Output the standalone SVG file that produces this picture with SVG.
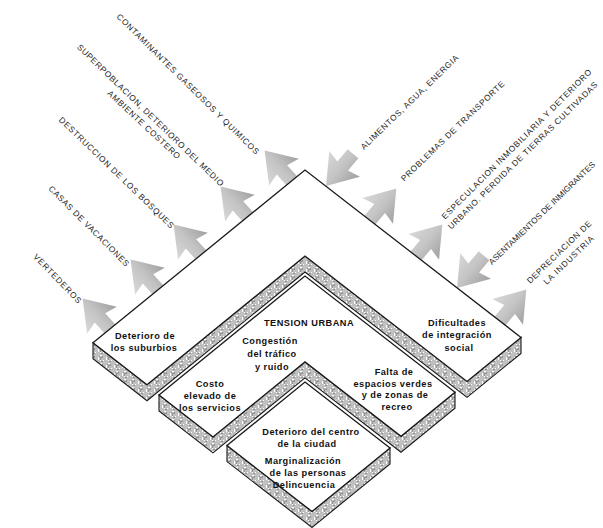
<svg xmlns="http://www.w3.org/2000/svg" xmlns:xlink="http://www.w3.org/1999/xlink" width="603" height="528" viewBox="0 0 603 528">
<defs>
<style>
.face{fill:#fff;stroke:#1a1a1a;stroke-width:1.3;stroke-linejoin:miter}
.wall{fill:url(#hatch);stroke:#1a1a1a;stroke-width:1.1;stroke-linejoin:miter}
.lbl{font-family:"Liberation Sans",Arial,sans-serif;font-size:8.3px;fill:#1e1e1e;text-anchor:middle}
.t{font-family:"Liberation Sans",Arial,sans-serif;font-size:9.2px;font-weight:bold;fill:#111;text-anchor:middle;letter-spacing:0.5px}
.arr{fill:url(#ag)}
</style>
<pattern id="hatch" width="8" height="8" patternUnits="userSpaceOnUse">
<rect width="8" height="8" fill="#fff"/>
<path d="M1,0V8M3,0V5H7V1H5V3M5,5V8M7,5V8M3,7H5" fill="none" stroke="#2a2a2a" stroke-width="0.6"/>
</pattern>
<linearGradient id="ag" x1="0" y1="0" x2="1" y2="0">
<stop offset="0" stop-color="#d8d8d8"/>
<stop offset="0.5" stop-color="#c4c4c4"/>
<stop offset="1" stop-color="#a0a0a0"/>
</linearGradient>
<path id="aout" d="M-7,1V-15L-20,-12L0,-41L20,-12L7,-15V1Z"/>
<path id="ain" d="M0,0L-20,-29L-7,-26V-42H7V-26L20,-29Z"/>
</defs>
<rect width="603" height="528" fill="#fff"/>

<g id="connectors">
<use xlink:href="#aout" class="arr" transform="translate(110,329) rotate(-42)"/>
<use xlink:href="#aout" class="arr" transform="translate(158,290) rotate(-42)"/>
<use xlink:href="#aout" class="arr" transform="translate(201,255) rotate(-42)"/>
<use xlink:href="#aout" class="arr" transform="translate(248,217) rotate(-42)"/>
<use xlink:href="#aout" class="arr" transform="translate(292,181) rotate(-42)"/>
<use xlink:href="#ain" class="arr" transform="translate(326,186) rotate(40)"/>
<use xlink:href="#aout" class="arr" transform="translate(370,220) rotate(40)"/>
<use xlink:href="#aout" class="arr" transform="translate(416,256) rotate(40)"/>
<use xlink:href="#ain" class="arr" transform="translate(457,288) rotate(40)"/>
<use xlink:href="#aout" class="arr" transform="translate(500,321) rotate(40)"/>
</g>

<g id="level1">
<polygon class="wall" points="93,342.8 147,384.7 305,256 467,381.4 521,337.4 521,353.4 467,397.4 305,272 147,400.7 93,358.8"/>
<polygon class="face" points="93,342.8 305,170 521,337.4 467,381.4 305,256 147,384.7"/>
<text class="t" x="145" y="338.5">Deterioro de</text>
<text class="t" x="144" y="350.5">los suburbios</text>
<text class="t" x="457" y="325.5">Dificultades</text>
<text class="t" x="457" y="338">de integración</text>
<text class="t" x="459" y="350.5">social</text>
</g>

<g id="level2">
<polygon class="wall" points="159,395 213,436.9 305,361.9 401,436.3 455,392.3 455,408.3 401,452.3 305,377.9 213,452.9 159,411"/>
<polygon class="face" points="159,395 305,276 455,392.3 401,436.3 305,361.9 213,436.9"/>
<text class="t" x="309" y="325.5">TENSION URBANA</text>
<text class="t" x="270" y="343.5">Congestión</text>
<text class="t" x="272" y="356.5">del tráfico</text>
<text class="t" x="272" y="370">y ruido</text>
<text class="t" x="210" y="386.5">Costo</text>
<text class="t" x="210" y="398.5">elevado de</text>
<text class="t" x="210" y="410.5">los servicios</text>
<text class="t" x="394" y="374.5">Falta de</text>
<text class="t" x="393" y="386.5">espacios verdes</text>
<text class="t" x="395" y="397.5">y de zonas de</text>
<text class="t" x="397" y="409.5">recreo</text>
</g>

<g id="level3">
<polygon class="wall" points="227,445.6 312,511.5 390,447.9 390,463.9 312,527.5 227,461.6"/>
<polygon class="face" points="305,382 390,447.9 312,511.5 227,445.6"/>
<text class="t" x="311" y="434.5">Deterioro del centro</text>
<text class="t" x="307" y="446.5">de la ciudad</text>
<text class="t" x="303" y="463.5">Marginalización</text>
<text class="t" x="308" y="475.5">de las personas</text>
<text class="t" x="304" y="488">Delincuencia</text>
</g>

<g id="labels-left">
<text class="lbl" transform="translate(188,84) rotate(44.6)" y="3" textLength="196">CONTAMINANTES GASEOSOS Y QUIMICOS</text>
<text class="lbl" transform="translate(150.5,115) rotate(44)" y="3" textLength="200">SUPERPOBLACION, DETERIORO DEL MEDIO</text>
<text class="lbl" transform="translate(144,124.5) rotate(43)" y="3" textLength="96">AMBIENTE COSTERO</text>
<text class="lbl" transform="translate(116.5,172.5) rotate(44)" y="3" textLength="156">DESTRUCCION DE LOS BOSQUES</text>
<text class="lbl" transform="translate(89,226) rotate(45)" y="3" textLength="110">CASAS DE VACACIONES</text>
<text class="lbl" transform="translate(57.5,278.5) rotate(46)" y="3" textLength="65">VERTEDEROS</text>
</g>

<g id="labels-right">
<text class="lbl" transform="translate(409.5,102) rotate(-44)" y="3" textLength="132">ALIMENTOS, AGUA, ENERGIA</text>
<text class="lbl" transform="translate(452.5,131) rotate(-44)" y="3" textLength="140">PROBLEMAS DE TRANSPORTE</text>
<text class="lbl" transform="translate(516.5,144) rotate(-45)" y="3" textLength="208">ESPECULACION INMOBILIARIA Y DETERIORO</text>
<text class="lbl" transform="translate(522.5,155.5) rotate(-44.5)" y="3" textLength="206">URBANO. PERDIDA DE TIERRAS CULTIVADAS</text>
<text class="lbl" transform="translate(541.8,213) rotate(-44)" y="3" textLength="144">ASENTAMIENTOS DE INMIGRANTES</text>
<text class="lbl" transform="translate(559,252) rotate(-44)" y="3" textLength="86">DEPRECIACION DE</text>
<text class="lbl" transform="translate(568.5,260) rotate(-44)" y="3" textLength="66">LA INDUSTRIA</text>
</g>
</svg>
